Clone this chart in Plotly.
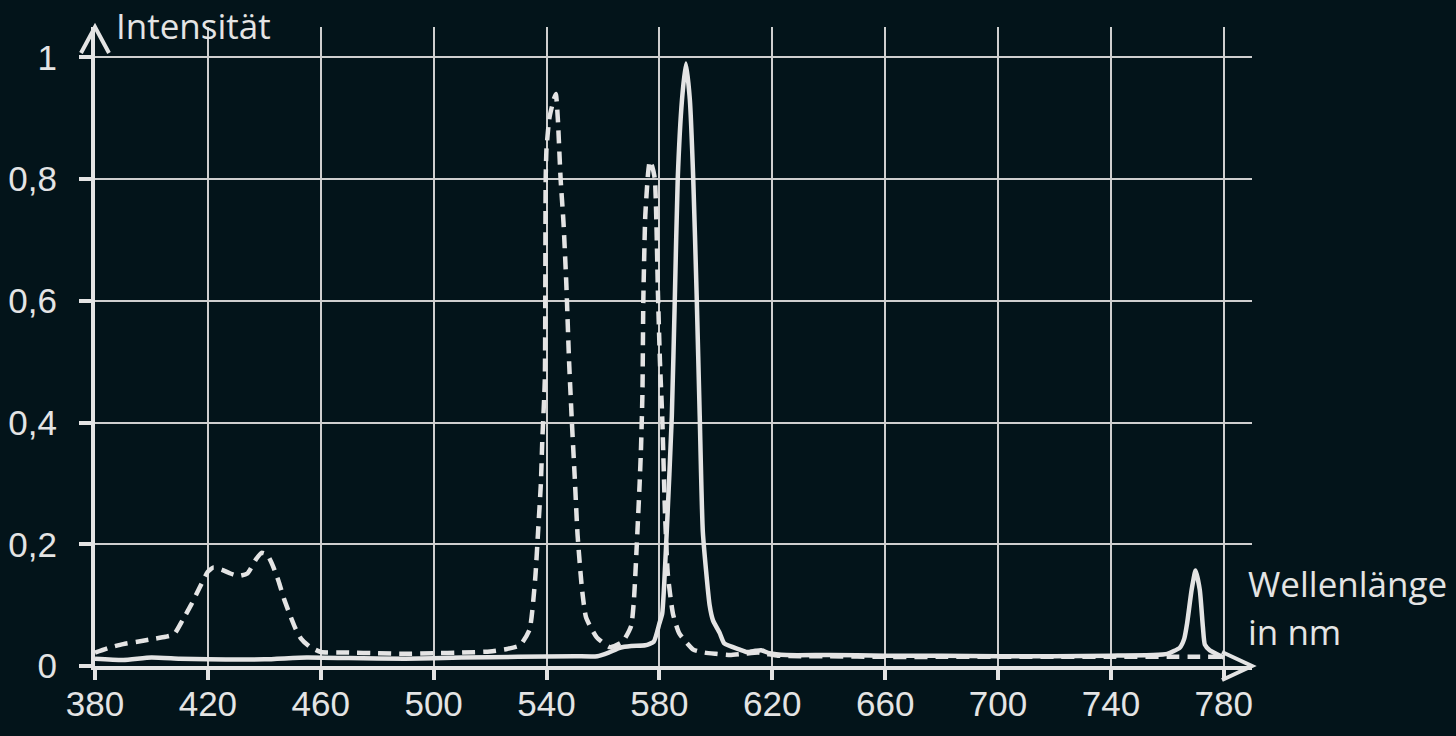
import plotly.graph_objects as go

# ---------------- data ----------------
wl_dashed = [380, 385, 390, 395, 400, 405, 408, 411, 414, 417, 420, 422, 425, 428, 431, 434, 437, 439,
             441, 443, 445, 447, 449, 451, 453, 456, 460, 470, 480, 490, 500, 510, 520, 526, 530.6, 534,
             536, 537, 538, 538.5, 539.4, 539.7, 540, 541, 542.5, 543.3, 544, 545, 546, 547, 548,
             549, 550, 551, 552.5, 554, 557.8, 562.5, 567, 570, 571, 572, 573, 573.5, 574, 574.3, 575,
             576, 576.6, 577.5, 578.4, 579.5, 580.2, 581, 582, 583, 584.8, 587, 592, 596, 600, 605, 610,
             615, 618, 622, 630, 640, 660, 680, 700, 720, 740, 760, 770, 780]
int_dashed = [0.022, 0.030, 0.036, 0.040, 0.044, 0.048, 0.052, 0.075, 0.100, 0.128, 0.155, 0.162, 0.158,
              0.152, 0.148, 0.152, 0.175, 0.186, 0.183, 0.165, 0.140, 0.110, 0.085, 0.062, 0.045, 0.032,
              0.023, 0.022, 0.021, 0.020, 0.021, 0.022, 0.024, 0.028, 0.034, 0.060, 0.144, 0.220, 0.300,
              0.370, 0.470, 0.800, 0.850, 0.900, 0.930, 0.940, 0.900, 0.800, 0.730, 0.630, 0.500, 0.400,
              0.310, 0.216, 0.130, 0.080, 0.047, 0.031, 0.040, 0.066, 0.110, 0.200, 0.300, 0.360, 0.450,
              0.600, 0.740, 0.810, 0.830, 0.820, 0.800, 0.610, 0.500, 0.410, 0.250, 0.150, 0.086, 0.054,
              0.027, 0.022, 0.020, 0.018, 0.020, 0.022, 0.020, 0.017, 0.016, 0.016, 0.015, 0.015, 0.015,
              0.015, 0.015, 0.015, 0.015, 0.015]

wl_solid = [380, 390, 400, 410, 420, 440, 455, 470, 490, 510, 530, 550, 558, 562, 566, 570, 575, 578,
            580, 581, 582.6, 584.4, 585.5, 586.5, 588, 589.4, 590.8, 592, 593.2, 594.3, 595.4, 597.8,
            599, 601.4, 603, 608.5, 611, 614, 616, 619, 625, 640, 660, 680, 700, 720, 740, 755, 760,
            764.4, 766, 767, 768.6, 770, 771.5, 772.6, 773.3, 775, 780]
int_solid = [0.012, 0.010, 0.014, 0.012, 0.011, 0.011, 0.014, 0.013, 0.012, 0.014, 0.015, 0.016, 0.016,
             0.022, 0.030, 0.033, 0.034, 0.040, 0.070, 0.086, 0.220, 0.410, 0.610, 0.800, 0.930, 0.990,
             0.930, 0.800, 0.610, 0.410, 0.220, 0.100, 0.075, 0.054, 0.037, 0.027, 0.023, 0.025, 0.026,
             0.021, 0.018, 0.018, 0.017, 0.017, 0.016, 0.016, 0.017, 0.018, 0.020, 0.030, 0.045, 0.070,
             0.125, 0.157, 0.125, 0.064, 0.035, 0.026, 0.014]

x_ticks = [380, 420, 460, 500, 540, 580, 620, 660, 700, 740, 780]
y_ticks = [0, 0.2, 0.4, 0.6, 0.8, 1]
y_ticktext = ["0", "0,2", "0,4", "0,6", "0,8", "1"]

y_title = "Intensität"
x_title_1 = "Wellenlänge"
x_title_2 = "in nm"

# ---------------- style ----------------
BG = "#03141a"
FG = "#e4e4e4"
GRID = "#cfcfcf"

fig = go.Figure()
fig.add_trace(go.Scatter(x=wl_dashed, y=int_dashed, mode="lines",
                         line=dict(color=FG, width=4.5, dash="13px,8px", shape="spline", smoothing=0.5),
                         showlegend=False, hoverinfo="skip"))
fig.add_trace(go.Scatter(x=wl_solid, y=int_solid, mode="lines",
                         line=dict(color=FG, width=4.5, shape="spline", smoothing=0.5),
                         showlegend=False, hoverinfo="skip"))

fig.update_layout(
    width=1456, height=736,
    paper_bgcolor=BG, plot_bgcolor=BG,
    margin=dict(l=95, r=204, t=27, b=70),
    font=dict(family="Liberation Sans, Arial, sans-serif", size=35, color=FG),
    showlegend=False,
)
fig.update_xaxes(
    range=[380, 790], tickvals=x_ticks, automargin=False,
    showgrid=True, gridcolor=GRID, gridwidth=2,
    showline=True, linecolor=FG, linewidth=4,
    ticks="outside", ticklen=10, tickwidth=4, tickcolor=FG,
    ticklabelstandoff=-6,
    zeroline=False,
)
fig.update_yaxes(
    range=[0, 1.05], tickvals=y_ticks, ticktext=y_ticktext, automargin=False,
    showgrid=True, gridcolor=GRID, gridwidth=2,
    showline=True, linecolor=FG, linewidth=4,
    ticks="outside", ticklen=12, tickwidth=4, tickcolor=FG,
    ticklabelstandoff=15,
    zeroline=False,
)

# arrow heads on the axes
fig.add_shape(type="path", xref="paper", yref="paper", xsizemode="pixel", ysizemode="pixel",
              xanchor=0, yanchor=1, path="M -14 -26 L 0 0 L 14 -26",
              line=dict(color=FG, width=4))
fig.add_shape(type="path", xref="paper", yref="paper", xsizemode="pixel", ysizemode="pixel",
              xanchor=1, yanchor=0, path="M -30 14 L 0 0 L -30 -14",
              line=dict(color=FG, width=4))

title_font = dict(family="Open Sans, Noto Sans, sans-serif", size=35, color=FG)
fig.add_annotation(text=y_title, xref="paper", yref="paper", x=0.0165, y=1.003,
                   xanchor="left", yanchor="middle", showarrow=False, font=title_font)
fig.add_annotation(text=x_title_1, xref="paper", yref="paper", x=0.9945, y=0.1294,
                   xanchor="left", yanchor="middle", showarrow=False, font=title_font)
fig.add_annotation(text=x_title_2, xref="paper", yref="paper", x=0.9945, y=0.0543,
                   xanchor="left", yanchor="middle", showarrow=False, font=title_font)

fig.write_html("out.html", config={"displayModeBar": False},
               post_script="document.body.style.margin='0';document.body.style.background='#03141a';")
